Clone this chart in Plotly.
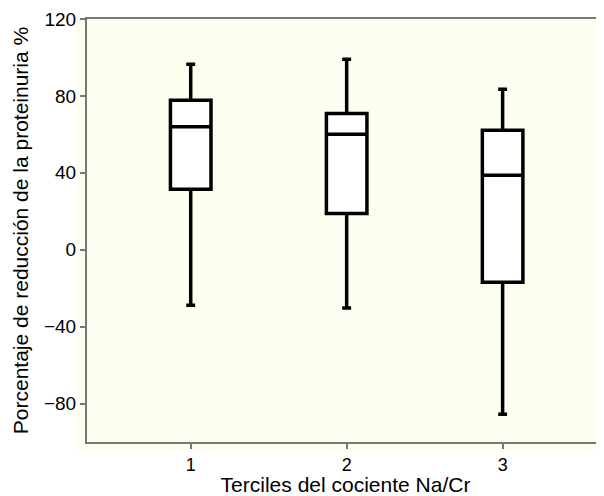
import plotly.graph_objects as go

categories = ["1", "2", "3"]
x_pos = [1, 2, 3]
upper_whisker = [96.5, 99.1, 83.5]
q3_vals = [77.8, 70.8, 62.2]
medians = [63.9, 60.1, 38.8]
q1_vals = [31.5, 18.8, -16.9]
lower_whisker = [-28.9, -30.3, -85.6]
y_ticks = [-80, -40, 0, 40, 80, 120]

cream = "#fefef0"
grey = "#777777"

fig = go.Figure()
fig.add_trace(go.Box(
    x=x_pos,
    q1=q1_vals, median=medians, q3=q3_vals,
    lowerfence=lower_whisker, upperfence=upper_whisker,
    fillcolor="white",
    line=dict(color="black", width=3.5),
    whiskerwidth=0.22,
    width=0.26,
    boxpoints=False,
    showlegend=False,
    hoverinfo="skip",
))

fig.add_shape(type="rect", xref="paper", yref="paper",
              x0=-0.02, x1=1.0, y0=-0.022, y1=1.0,
              fillcolor=cream, line=dict(width=0), layer="below")

fig.update_layout(
    width=596, height=488,
    margin=dict(l=79, r=0, t=11, b=54, autoexpand=False),
    paper_bgcolor="white",
    plot_bgcolor=cream,
    font=dict(family="Liberation Sans, Arial, sans-serif", color="black", size=18),
    xaxis=dict(
        range=[0.335, 3.65],
        tickvals=x_pos, ticktext=categories,
        showgrid=False, zeroline=False, automargin=False,
        showline=True, linecolor=grey, linewidth=2, mirror=True,
        ticks="outside", ticklen=5, tickcolor=grey, tickwidth=1.5,
        tickfont=dict(size=18),
        title=dict(text="Terciles del cociente Na/Cr", font=dict(size=21), standoff=3),
    ),
    yaxis=dict(
        range=[-100, 120],
        tickvals=y_ticks,
        showgrid=False, zeroline=False, automargin=False,
        showline=True, linecolor=grey, linewidth=2,
        ticks="outside", ticklen=5, tickcolor=grey, tickwidth=1.5,
        tickfont=dict(size=19),
        title=dict(text="Porcentaje de reducción de la proteinuria %", font=dict(size=21), standoff=10),
    ),
)

fig.write_html("out.html")
